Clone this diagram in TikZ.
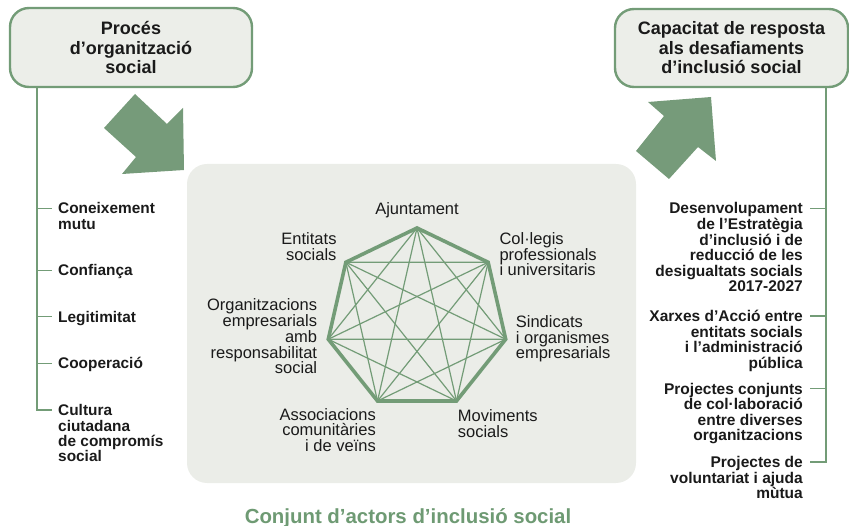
\documentclass[tikz,border=0pt]{standalone}
\usepackage{fontspec}
\setmainfont{Liberation Sans}
\definecolor{gline}{HTML}{739C77}
\definecolor{garrow}{HTML}{769B7A}
\definecolor{boxfill}{HTML}{ECEEE9}
\definecolor{cfill}{HTML}{EBEDE8}
\definecolor{gtitle}{HTML}{6E9A73}
\definecolor{txt}{HTML}{1A1A1A}
\tikzset{
  titlebox/.style={draw=gline, line width=2.4pt, fill=boxfill, rounded corners=19pt,
    align=center, text=txt, inner sep=0pt,
    font=\fontsize{18}{19.5}\selectfont\bfseries},
  itemL/.style={anchor=base west, align=left, text=txt, inner sep=0pt,
    font=\fontsize{15.4}{15.4}\selectfont\bfseries},
  itemR/.style={anchor=base east, align=right, text=txt, inner sep=0pt,
    font=\fontsize{15.5}{15.6}\selectfont\bfseries},
  actor/.style={text=txt, inner sep=0pt,
    font=\fontsize{16.5}{15.8}\selectfont},
  tree/.style={draw=gline, line width=1.2pt},
  bigarrow/.style={fill=garrow, draw=none},
  diag/.style={draw=gline, line width=1.2pt},
  edge/.style={draw=gline, line width=3.6pt, line join=miter},
}
\begin{document}
\begin{tikzpicture}[x=1pt,y=-1pt]
\useasboundingbox (0,0) rectangle (849,526);

% central panel
\node[fill=cfill, rounded corners=20pt, minimum width=449pt, minimum height=319pt, inner sep=0pt] (cbox) at (411.5,323.5) {};

% top boxes
\node[titlebox, minimum width=242pt, minimum height=79pt] (b1) at (131,47.5)
  {Procés\\d’organització\\social};
\node[titlebox, minimum width=233pt, minimum height=78pt] (b2) at (731.5,48)
  {Capacitat de resposta\\als desafiaments\\d’inclusió social};

% big arrows
\path[bigarrow] (135,94) -- (167,124) -- (183,108) -- (184,170) -- (122,174) -- (136,157) -- (104,128) -- cycle;
\path[bigarrow] (711,97) -- (648,102) -- (664,116) -- (636,151) -- (669,179) -- (698,147) -- (716,161) -- cycle;

% left list (base = last line)
\node[itemL] (i1) at (58,229.4) {Coneixement\\mutu};
\node[itemL] (i2) at (58,276) {Confiança};
\node[itemL] (i3) at (58,322.5) {Legitimitat};
\node[itemL] (i4) at (58,369) {Cooperació};
\node[itemL] (i5) at (58,461.9) {Cultura\\ciutadana\\de compromís\\social};
\coordinate (L0) at (37,87);
\coordinate (lt1) at (52,208.4);
\coordinate (lt2) at (52,270.4);
\coordinate (lt3) at (52,316.9);
\coordinate (lt4) at (52,363.4);
\coordinate (lt5) at (52,410.1);
\draw[tree] (L0) |- (lt5);
\foreach \i in {1,...,4} \draw[tree] (L0 |- lt\i) -- (lt\i);

% right list (base = last line)
\node[itemR] (r1) at (803,292) {Desenvolupament\\de l’Estratègia\\d’inclusió i de\\reducció de les\\desigualtats socials\\2017-2027};
\node[itemR] (r2) at (803,368.5) {Xarxes d’Acció entre\\entitats socials\\i l’administració\\pública};
\node[itemR] (r3) at (803,440.8) {Projectes conjunts\\de col·laboració\\entre diverses\\organitzacions};
\node[itemR] (r4) at (803,498.9) {Projectes de\\voluntariat i ajuda\\mùtua};
\coordinate (R0) at (826,87);
\coordinate (rt1) at (810,208.4);
\coordinate (rt2) at (810,316.1);
\coordinate (rt3) at (810,388.4);
\coordinate (rt4) at (810,462.1);
\draw[tree] (R0) |- (rt4);
\foreach \i in {1,...,3} \draw[tree] (R0 |- rt\i) -- (rt\i);

% heptagon
\begin{scope}[shift={(417,319)}]
  \foreach \k in {0,...,6} \coordinate (v\k) at ({-90+\k*360/7}:91);
\end{scope}
\foreach \a/\b in {0/2,0/3,0/4,0/5,1/3,1/4,1/5,1/6,2/4,2/5,2/6,3/5,3/6,4/6}
  \draw[diag] (v\a) -- (v\b);
\draw[edge] (v0) -- (v1) -- (v2) -- (v3) -- (v4) -- (v5) -- (v6) -- cycle;

% actor labels (base = last line)
\node[actor, anchor=base] (a0) at (417,214.3) {Ajuntament};
\node[actor, anchor=base west, align=left] (a1) at (499.3,275.9) {Col·legis\\professionals\\i universitaris};
\node[actor, anchor=base west, align=left] (a2) at (515.7,358.9) {Sindicats\\i organismes\\empresarials};
\node[actor, anchor=base west, align=left] (a3) at (457.7,437.8) {Moviments\\socials};
\node[actor, anchor=base east, align=right] (a4) at (376,451.6) {Associacions\\comunitàries\\i de veïns};
\node[actor, anchor=base east, align=right] (a5) at (317.3,373.9) {Organitzacions\\empresarials\\amb\\responsabilitat\\social};
\node[actor, anchor=base east, align=right] (a6) at (336.7,260.1) {Entitats\\socials};

% bottom title
\node[anchor=base, inner sep=0pt, text=gtitle, font=\fontsize{20.4}{21}\selectfont\bfseries] (title) at (408,523)
  {Conjunt d’actors d’inclusió social};
\end{tikzpicture}
\end{document}
